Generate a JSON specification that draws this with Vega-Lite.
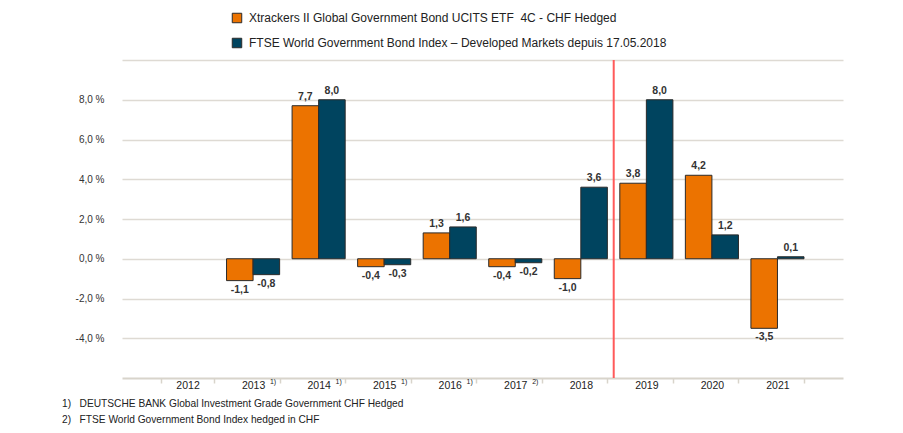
{
  "$schema": "https://vega.github.io/schema/vega-lite/v6.json",
  "width": 721,
  "height": 318,
  "autosize": {"type": "none"},
  "padding": {"left": 122, "top": 60, "right": 60, "bottom": 55},
  "background": "white",
  "config": {
    "view": {"stroke": null},
    "font": "Liberation Sans",
    "locale": {"number": {"decimal": ",", "thousands": ".", "grouping": [3], "currency": ["", " CHF"], "minus": "-"}}
  },
  "title": {
    "text": ["1)\u00a0\u00a0 DEUTSCHE BANK Global Investment Grade Government CHF Hedged", "2)\u00a0\u00a0 FTSE World Government Bond Index hedged in CHF"],
    "orient": "bottom",
    "anchor": "start",
    "frame": "group",
    "dx": -60,
    "offset": 8,
    "fontSize": 10.2,
    "fontWeight": "normal",
    "lineHeight": 16,
    "color": "#222"
  },
  "data": {
    "values": [
      {"year": "2013", "series": "Xtrackers II Global Government Bond UCITS ETF  4C - CHF Hedged", "value": -1.1},
      {"year": "2013", "series": "FTSE World Government Bond Index – Developed Markets depuis 17.05.2018", "value": -0.8},
      {"year": "2014", "series": "Xtrackers II Global Government Bond UCITS ETF  4C - CHF Hedged", "value": 7.7},
      {"year": "2014", "series": "FTSE World Government Bond Index – Developed Markets depuis 17.05.2018", "value": 8.0},
      {"year": "2015", "series": "Xtrackers II Global Government Bond UCITS ETF  4C - CHF Hedged", "value": -0.4},
      {"year": "2015", "series": "FTSE World Government Bond Index – Developed Markets depuis 17.05.2018", "value": -0.3},
      {"year": "2016", "series": "Xtrackers II Global Government Bond UCITS ETF  4C - CHF Hedged", "value": 1.3},
      {"year": "2016", "series": "FTSE World Government Bond Index – Developed Markets depuis 17.05.2018", "value": 1.6},
      {"year": "2017", "series": "Xtrackers II Global Government Bond UCITS ETF  4C - CHF Hedged", "value": -0.4},
      {"year": "2017", "series": "FTSE World Government Bond Index – Developed Markets depuis 17.05.2018", "value": -0.2},
      {"year": "2018", "series": "Xtrackers II Global Government Bond UCITS ETF  4C - CHF Hedged", "value": -1.0},
      {"year": "2018", "series": "FTSE World Government Bond Index – Developed Markets depuis 17.05.2018", "value": 3.6},
      {"year": "2019", "series": "Xtrackers II Global Government Bond UCITS ETF  4C - CHF Hedged", "value": 3.8},
      {"year": "2019", "series": "FTSE World Government Bond Index – Developed Markets depuis 17.05.2018", "value": 8.0},
      {"year": "2020", "series": "Xtrackers II Global Government Bond UCITS ETF  4C - CHF Hedged", "value": 4.2},
      {"year": "2020", "series": "FTSE World Government Bond Index – Developed Markets depuis 17.05.2018", "value": 1.2},
      {"year": "2021", "series": "Xtrackers II Global Government Bond UCITS ETF  4C - CHF Hedged", "value": -3.5},
      {"year": "2021", "series": "FTSE World Government Bond Index – Developed Markets depuis 17.05.2018", "value": 0.1}
    ]
  },
  "encoding": {
    "x": {
      "field": "year", "type": "nominal",
      "scale": {"domain": ["2012","2013","2014","2015","2016","2017","2018","2019","2020","2021"], "paddingInner": 0.19, "paddingOuter": 0.595},
      "axis": {
        "title": null, "labelAngle": 0, "labelFontSize": 10.5, "labelColor": "#222", "labelPadding": -3,
        "domainColor": "#d8d4cb", "domainWidth": 2, "tickColor": "#d8d4cb", "tickWidth": 1.5, "tickSize": 5, "tickBand": "extent", "grid": false
      }
    }
  },
  "layer": [
    {
      "mark": {"type": "bar", "stroke": "#2a2a2a", "strokeWidth": 1},
      "encoding": {
        "y": {
          "field": "value", "type": "quantitative",
          "scale": {"domain": [-6, 10], "nice": false},
          "axis": {
            "title": null, "values": [-4, -2, 0, 2, 4, 6, 8, 10], "format": ".1f",
            "labelExpr": "datum.value >= 10 ? '' : datum.label + ' %'",
            "domain": false, "ticks": false, "labelPadding": 18, "labelFontSize": 10, "labelColor": "#333",
            "grid": true, "gridColor": "#dedad3", "gridWidth": 1.5
          }
        },
        "xOffset": {"field": "series", "type": "nominal", "scale": {"domain": ["Xtrackers II Global Government Bond UCITS ETF  4C - CHF Hedged", "FTSE World Government Bond Index – Developed Markets depuis 17.05.2018"], "paddingInner": 0, "paddingOuter": 0}},
        "color": {
          "field": "series", "type": "nominal",
          "scale": {"domain": ["Xtrackers II Global Government Bond UCITS ETF  4C - CHF Hedged", "FTSE World Government Bond Index – Developed Markets depuis 17.05.2018"], "range": ["#EC7300", "#00445F"]},
          "legend": {
            "title": null, "orient": "none", "legendX": 109, "legendY": -48, "direction": "vertical",
            "symbolType": "square", "symbolSize": 90, "symbolStrokeColor": "#2a2a2a", "symbolStrokeWidth": 1,
            "labelFontSize": 12, "labelColor": "#222", "labelLimit": 600, "rowPadding": 11, "labelOffset": 6,
            "labelExpr": "replace(datum.label, 'ETF  4C', 'ETF\u00a0 4C')"
          }
        }
      }
    },
    {
      "transform": [{"filter": "datum.value >= 0"}],
      "mark": {"type": "text", "baseline": "bottom", "dy": -4, "fontSize": 10.5, "fontWeight": "bold", "color": "#333"},
      "encoding": {
        "y": {"field": "value", "type": "quantitative"},
        "xOffset": {"field": "series", "type": "nominal", "scale": {"domain": ["Xtrackers II Global Government Bond UCITS ETF  4C - CHF Hedged", "FTSE World Government Bond Index – Developed Markets depuis 17.05.2018"], "paddingInner": 0, "paddingOuter": 0}},
        "text": {"field": "value", "type": "quantitative", "format": ".1f"}
      }
    },
    {
      "transform": [{"filter": "datum.value < 0"}],
      "mark": {"type": "text", "baseline": "top", "dy": 4, "fontSize": 10.5, "fontWeight": "bold", "color": "#333"},
      "encoding": {
        "y": {"field": "value", "type": "quantitative"},
        "xOffset": {"field": "series", "type": "nominal", "scale": {"domain": ["Xtrackers II Global Government Bond UCITS ETF  4C - CHF Hedged", "FTSE World Government Bond Index – Developed Markets depuis 17.05.2018"], "paddingInner": 0, "paddingOuter": 0}},
        "text": {"field": "value", "type": "quantitative", "format": ".1f"}
      }
    },
    {
      "data": {"values": [{"year": "2019"}]},
      "mark": {"type": "rule", "color": "#FF5A5A", "strokeWidth": 2},
      "encoding": {
        "x": {"field": "year", "type": "nominal", "bandPosition": -0.115},
        "y": {"datum": 10},
        "y2": {"datum": -6}
      }
    },
    {
      "data": {"values": [
        {"year": "2013", "note": "1)"},
        {"year": "2014", "note": "1)"},
        {"year": "2015", "note": "1)"},
        {"year": "2016", "note": "1)"},
        {"year": "2017", "note": "2)"}
      ]},
      "mark": {"type": "text", "baseline": "top", "dy": 0, "dx": 20, "fontSize": 7, "color": "#222"},
      "encoding": {
        "x": {"field": "year", "type": "nominal"},
        "y": {"datum": -6},
        "text": {"field": "note"}
      }
    }
  ]
}
